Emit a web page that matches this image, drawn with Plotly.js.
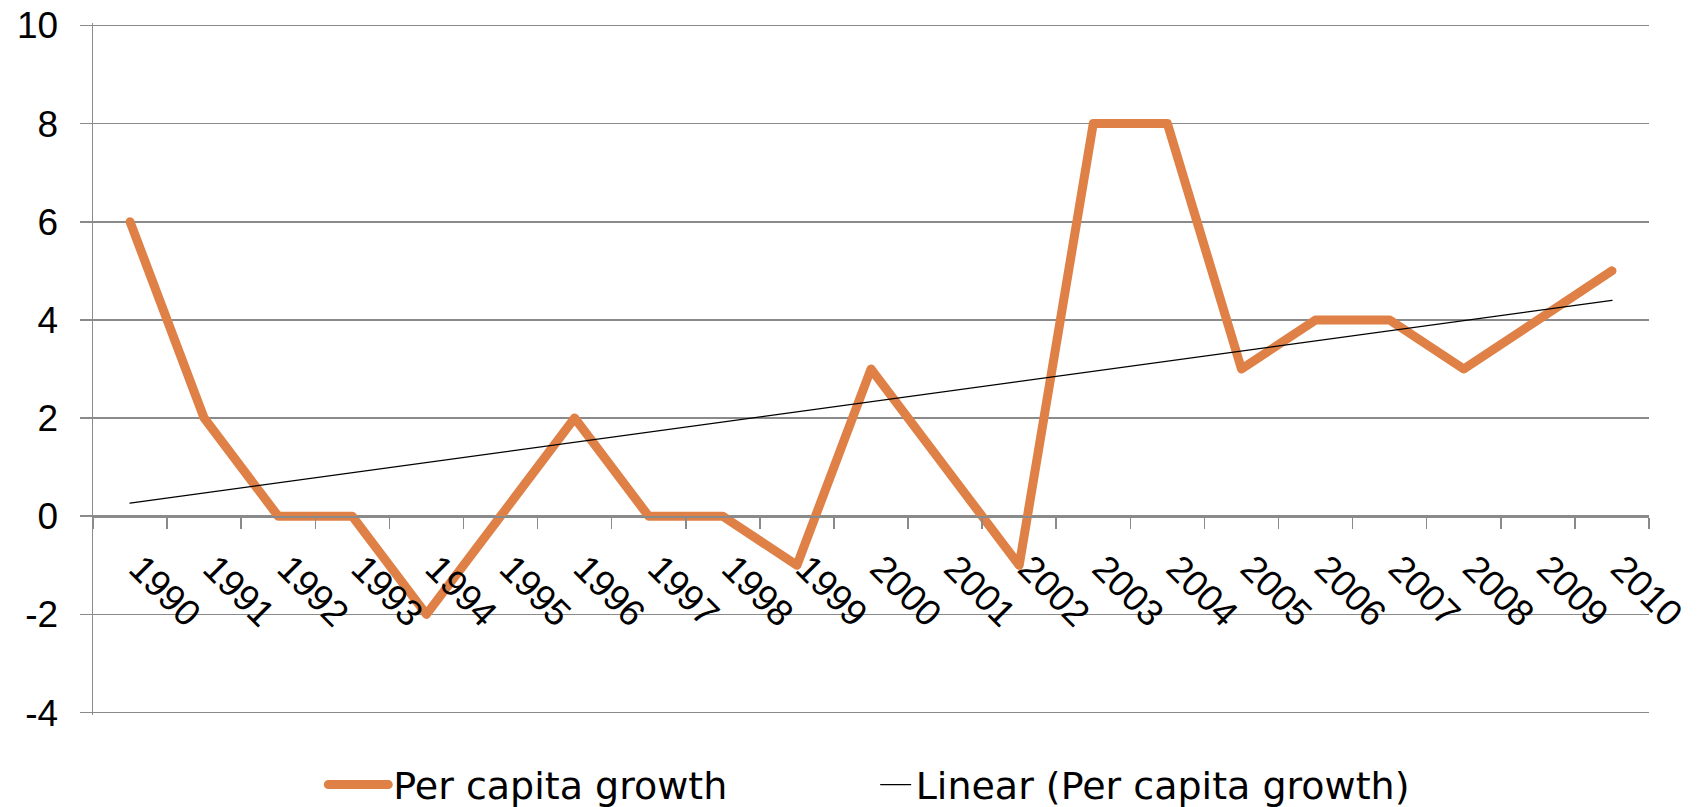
<!DOCTYPE html>
<html>
<head>
<meta charset="utf-8">
<script src="https://cdn.plot.ly/plotly-3.0.1.min.js"></script>
<style>
html,body{margin:0;padding:0;background:#fff;}
#chart{width:1699px;height:807px;}
.scatterlayer .js-line, .legendlines path{stroke-linecap:round!important;stroke-linejoin:round!important;}
</style>
</head>
<body>
<div id="chart"></div>
<script>
const years = ['1990','1991','1992','1993','1994','1995','1996','1997','1998','1999','2000','2001','2002','2003','2004','2005','2006','2007','2008','2009','2010'];
const growth = [6,2,0,0,-2,0,2,0,0,-1,3,1,-1,8,8,3,4,4,3,4,5];
const seriesName = 'Per capita growth';
const trendName = 'Linear (Per capita growth)';
const yTicks = [-4,-2,0,2,4,6,8,10];

// least-squares linear trend computed from the series
const n = growth.length;
const idx = growth.map((_, i) => i);
const mx = idx.reduce((a,b)=>a+b,0)/n;
const my = growth.reduce((a,b)=>a+b,0)/n;
let sxy = 0, sxx = 0;
for (let i = 0; i < n; i++) { sxy += (i-mx)*(growth[i]-my); sxx += (i-mx)*(i-mx); }
const slope = sxy/sxx, icpt = my - slope*mx;
const trend = idx.map(i => icpt + slope*i);

const gray = '#8a8a8a';
const legFont = {family:'DejaVu Sans, sans-serif', size:38, color:'#000'};
const data = [
  {x: years, y: growth, type:'scatter', mode:'lines', name: seriesName,
   line:{color:'#DF8047', width:9}, legend:'legend'},
  {x: years, y: trend, type:'scatter', mode:'lines', name: trendName,
   line:{color:'#000000', width:1.3}, legend:'legend2'}
];
const layout = {
  width:1699, height:807,
  margin:{l:93, r:50, t:23, b:92, autoexpand:false},
  paper_bgcolor:'#fff', plot_bgcolor:'#fff',
  font:{family:'Liberation Sans, Arial, sans-serif', size:37, color:'#000'},
  showlegend:true,
  legend:{orientation:'h', x:0.148, xanchor:'left', y:-0.101, yanchor:'middle',
    font:legFont, itemwidth:60, bgcolor:'rgba(0,0,0,0)'},
  legend2:{orientation:'h', x:0.503, xanchor:'left', y:-0.101, yanchor:'middle',
    font:legFont, itemwidth:30, bgcolor:'rgba(0,0,0,0)'},
  xaxis:{type:'category', anchor:'free', position:(0+4.05)/14.1, range:[-0.5,20.5],
    showline:true, linecolor:gray, linewidth:1.5, showgrid:false, zeroline:false,
    ticks:'outside', tickson:'boundaries', ticklen:11, tickcolor:gray, tickwidth:1.5,
    tickangle:45, tickfont:{size:37}, ticklabelstandoff:14, ticklabelshift:10},
  yaxis:{range:[-4.05,10.05], tickvals:yTicks, ticktext:yTicks.map(String),
    showline:true, linecolor:gray, linewidth:1.5, showgrid:true, gridcolor:gray, gridwidth:1.5,
    zeroline:false, ticks:'outside', ticklen:12, tickcolor:gray, tickwidth:1.5,
    tickfont:{size:37}, ticklabelstandoff:14}
};
Plotly.newPlot('chart', data, layout, {displayModeBar:false, staticPlot:true});
</script>
</body>
</html>
